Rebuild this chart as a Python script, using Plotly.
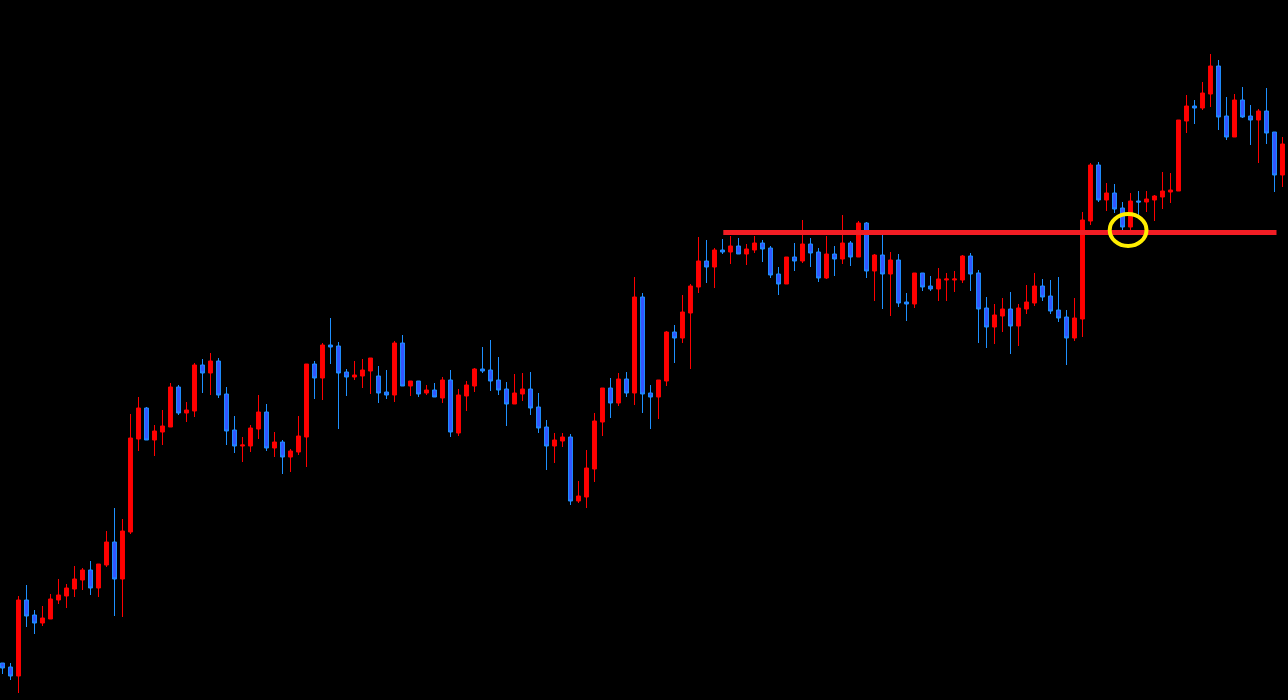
import plotly.graph_objects as go

# OHLC values (price units, index = bar number)
opens = [37, 33, 24, 100, 85, 77, 81, 100, 104, 111, 120, 130, 112, 135, 158, 121, 168, 261, 292, 260,
         268, 273, 313, 287, 289, 335, 327, 339, 306, 270, 254, 254, 271, 288, 252, 258, 243, 248, 263, 336,
         322, 355, 354, 328, 323, 324, 329, 324, 308, 305, 357, 314, 319, 307, 310, 302, 320, 267, 304, 314,
         331, 330, 320, 311, 296, 306, 311, 293, 273, 254, 259, 263, 199, 203, 231, 278, 312, 297, 321, 307,
         403, 307, 303, 319, 368, 362, 387, 413, 439, 433, 450, 448, 454, 446, 450, 457, 452, 426, 416, 443,
         439, 456, 448, 422, 446, 441, 457, 443, 477, 429, 445, 426, 440, 398, 396, 427, 414, 411, 420, 420,
         420, 444, 427, 392, 373, 384, 391, 374, 391, 397, 414, 404, 390, 383, 362, 381, 479, 535, 500, 507,
         492, 473, 499, 498, 500, 503, 508, 509, 579, 594, 592, 606, 634, 584, 563, 600, 584, 580, 589, 568,
         525]
highs = [37, 37, 104, 115, 90, 94, 106, 121, 116, 134, 132, 139, 136, 169, 192, 181, 286, 303, 293, 275,
         290, 317, 315, 298, 337, 341, 347, 342, 313, 284, 263, 275, 305, 296, 268, 260, 251, 284, 336, 339,
         357, 382, 358, 331, 339, 341, 342, 334, 330, 359, 365, 319, 319, 315, 317, 323, 330, 311, 319, 332,
         353, 360, 343, 318, 326, 327, 328, 307, 280, 267, 267, 266, 219, 250, 287, 312, 322, 327, 328, 423,
         407, 315, 320, 369, 375, 405, 416, 463, 460, 452, 461, 464, 462, 456, 464, 460, 454, 433, 443, 457,
         480, 462, 452, 464, 454, 485, 459, 479, 478, 446, 465, 448, 446, 407, 427, 427, 424, 432, 427, 429,
         445, 447, 430, 403, 396, 402, 408, 396, 415, 427, 421, 420, 423, 390, 402, 488, 537, 538, 517, 516,
         498, 507, 509, 509, 505, 528, 527, 580, 605, 600, 618, 646, 640, 603, 606, 613, 595, 591, 612, 568,
         563]
lows = [26, 20, 7, 73, 66, 74, 81, 96, 92, 103, 110, 105, 103, 133, 84, 83, 166, 249, 260, 244,
        255, 273, 285, 278, 283, 307, 305, 302, 255, 247, 238, 248, 261, 249, 243, 226, 228, 245, 233, 301,
        300, 336, 271, 304, 320, 312, 306, 297, 301, 298, 314, 304, 303, 305, 303, 297, 263, 264, 289, 308,
        327, 309, 305, 274, 296, 299, 285, 267, 230, 237, 253, 195, 197, 192, 218, 264, 282, 294, 303, 295,
        287, 271, 281, 314, 337, 357, 331, 407, 417, 412, 446, 436, 446, 435, 447, 438, 422, 405, 416, 429,
        437, 433, 418, 421, 424, 436, 434, 443, 422, 399, 391, 384, 393, 379, 392, 409, 409, 399, 399, 408,
        417, 409, 357, 352, 356, 368, 346, 354, 386, 394, 399, 386, 378, 335, 359, 363, 475, 498, 489, 487,
        470, 470, 485, 488, 479, 491, 497, 509, 567, 576, 590, 593, 570, 560, 563, 582, 555, 537, 556, 508,
        513]
closes = [32, 24, 100, 84, 77, 82, 101, 105, 112, 121, 130, 112, 136, 158, 121, 169, 262, 292, 260, 269,
          274, 313, 287, 290, 335, 327, 339, 305, 269, 254, 255, 272, 288, 252, 258, 243, 249, 264, 336, 322,
          355, 353, 327, 323, 325, 330, 342, 307, 305, 357, 314, 319, 306, 310, 303, 320, 268, 305, 315, 331,
          329, 319, 310, 296, 307, 311, 292, 272, 254, 260, 263, 199, 204, 232, 279, 312, 297, 321, 307, 403,
          306, 303, 320, 368, 362, 388, 414, 439, 433, 450, 448, 454, 446, 451, 457, 451, 425, 416, 443, 439,
          456, 447, 422, 446, 441, 457, 443, 477, 429, 445, 426, 440, 397, 396, 427, 413, 411, 421, 421, 421,
          444, 426, 391, 373, 385, 391, 374, 392, 398, 414, 403, 389, 382, 362, 382, 480, 535, 500, 507, 491,
          473, 499, 498, 501, 504, 509, 510, 580, 594, 592, 607, 634, 583, 563, 600, 583, 580, 589, 567, 525,
          556]

bars = list(range(len(opens)))

# Horizontal level and highlighted bar (annotation values)
level_price = 467.5
level_start_bar = 90.1
level_end_bar = 159.25
circle_bar = 140.7
circle_price = 470.0
circle_half_w = 2.3
circle_half_h = 16.0

fig = go.Figure()
fig.add_trace(go.Candlestick(
    x=bars, open=opens, high=highs, low=lows, close=closes,
    increasing=dict(line=dict(color="#ff0000", width=1), fillcolor="#ff0000"),
    decreasing=dict(line=dict(color="#1e90ff", width=1), fillcolor="#3355ff"),
    whiskerwidth=0, hoverinfo="skip", showlegend=False,
))

fig.add_shape(type="line", x0=level_start_bar, x1=level_end_bar, y0=level_price, y1=level_price,
              line=dict(color="#f21d24", width=5), layer="above")
fig.add_shape(type="circle",
              x0=circle_bar - circle_half_w, x1=circle_bar + circle_half_w,
              y0=circle_price - circle_half_h, y1=circle_price + circle_half_h,
              line=dict(color="#ffee00", width=4), layer="above")

fig.update_layout(
    width=1288, height=700,
    margin=dict(l=0, r=0, t=0, b=0),
    paper_bgcolor="#000000", plot_bgcolor="#000000",
    boxgap=0.3,
    xaxis=dict(range=[-0.3125, 160.6875], visible=False, showgrid=False, zeroline=False,
               rangeslider=dict(visible=False), fixedrange=True),
    yaxis=dict(range=[0, 700], visible=False, showgrid=False, zeroline=False, fixedrange=True),
    showlegend=False,
)

fig.write_html(
    "out.html",
    config={"displayModeBar": False},
    post_script="document.body.style.margin='0';document.body.style.background='#000';",
)
